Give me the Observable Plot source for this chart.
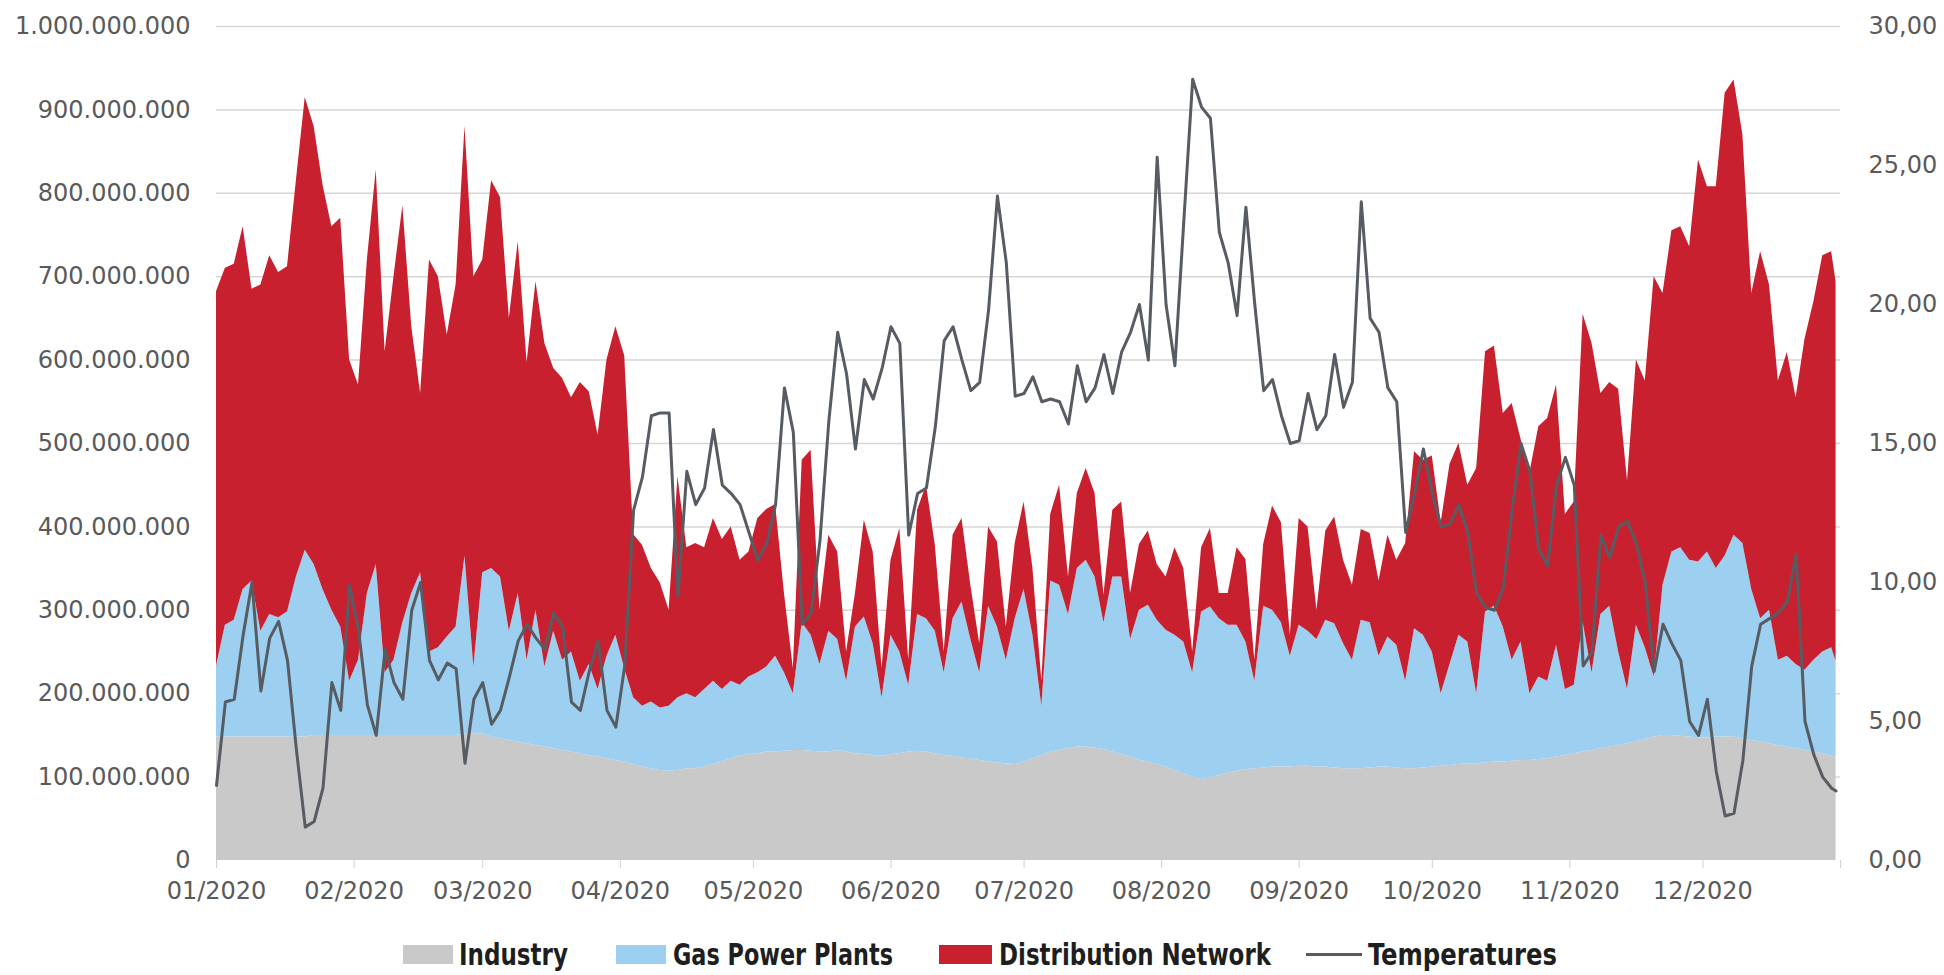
<!DOCTYPE html>
<html><head><meta charset="utf-8">
<script src="https://cdn.jsdelivr.net/npm/d3@7"></script>
<script src="https://cdn.jsdelivr.net/npm/@observablehq/plot@0.6"></script>
<style>
body{margin:0;background:#fff;width:1944px;height:975px;overflow:hidden;position:relative}
#legend{position:absolute;left:0;top:925px}
</style></head>
<body><div id="chart"></div><svg id="legend" width="1944" height="50"></svg>
<script>
// Series names and colours
const seriesNames = ["Industry", "Gas Power Plants", "Distribution Network"];
const seriesColors = ["#c9c9c9", "#9ccff0", "#c8202f"];
const tempName = "Temperatures";
const tempColor = "#575c63";

// Values read every 2 days from 01/01/2020 (last point 31/12/2020), in millions
const industry = [
148,148,148,148,148,148,148,148,148,148,
148,150,150,150,150,150,150,150,150,150,
150,150,150,150,150,150,150,150,152,152,
152,148,146,144,142,140,138,136,134,132,
130,128,126,124,122,120,118,115,112,110,
108,107,108,110,110,112,115,118,122,125,
127,128,130,130,131,132,132,131,130,130,
132,130,128,127,126,125,127,128,130,131,
130,128,126,125,123,122,120,118,117,116,
115,118,122,126,130,132,134,136,136,135,
133,130,127,124,120,118,115,112,108,104,
100,97,99,102,105,107,109,110,111,112,
112,112,113,113,112,112,111,110,110,110,
111,112,112,111,110,110,111,112,113,114,
115,116,116,117,118,118,119,120,120,121,
122,124,126,128,130,132,134,136,138,140,
142,145,148,150,150,149,148,147,147,148,
148,148,146,144,142,140,138,136,134,132,
130,128,125,124];

const gasPowerPlants = [
85,134,140,177,187,127,147,143,150,192,
224,205,175,150,130,65,90,170,205,75,
90,135,170,195,100,105,118,130,213,80,
193,202,194,131,178,100,162,96,141,108,
120,87,109,81,123,150,112,80,73,80,
75,78,87,90,85,93,100,87,93,85,
93,97,102,115,94,68,153,139,105,145,
133,85,152,165,134,70,143,122,80,164,
160,147,99,165,187,143,105,187,163,124,
175,207,148,59,205,198,161,214,224,205,
152,210,213,141,180,188,173,164,162,158,
125,201,205,188,177,175,153,105,194,188,
173,133,169,162,153,176,173,150,130,178,
174,133,156,147,105,168,159,138,87,121,
155,146,84,181,187,162,121,142,80,99,
93,134,79,82,155,93,161,169,112,65,
140,110,72,180,220,226,212,211,223,202,
217,242,234,181,148,160,102,109,101,96,
110,122,130,115];

const distributionNetwork = [
449,428,427,435,350,415,430,414,414,475,
543,525,485,460,490,385,330,400,473,385,
460,500,320,215,470,445,362,410,515,468,
375,465,455,375,422,357,394,388,315,338,
305,358,327,305,355,370,375,196,193,160,
150,115,265,175,185,170,195,180,185,150,
150,185,189,182,95,30,195,222,65,115,
105,35,40,116,110,35,90,148,30,125,
160,103,25,100,100,65,35,95,102,40,
90,105,80,30,80,120,45,90,110,100,
33,80,90,55,79,89,67,64,105,88,
25,77,94,30,38,93,99,25,74,125,
120,25,128,125,35,107,128,100,90,109,
107,90,122,102,165,212,210,235,205,240,
230,188,270,312,312,256,308,243,265,300,
315,312,210,220,370,395,265,268,315,250,
318,320,480,350,385,385,376,482,438,458,
555,546,490,355,440,390,335,364,320,397,
430,475,475,455];

// Temperatures (°C)
const temperatures = [
2.7,5.7,5.8,8.1,10.0,6.1,8.0,8.6,7.2,4.0,
1.2,1.4,2.6,6.4,5.4,9.9,8.3,5.6,4.5,7.6,
6.4,5.8,9.0,10.0,7.2,6.5,7.1,6.9,3.5,5.8,
6.4,4.9,5.4,6.6,7.9,8.5,8.0,7.6,8.9,8.4,
5.7,5.4,6.8,7.9,5.4,4.8,7.0,12.6,13.8,16.0,
16.1,16.1,9.5,14.0,12.8,13.4,15.5,13.5,13.2,12.8,
11.8,10.8,11.4,12.8,17.0,15.4,8.5,8.9,11.5,15.8,
19.0,17.5,14.8,17.3,16.6,17.7,19.2,18.6,11.7,13.2,
13.4,15.6,18.7,19.2,18.0,16.9,17.2,19.8,23.9,21.5,
16.7,16.8,17.4,16.5,16.6,16.5,15.7,17.8,16.5,17.0,
18.2,16.8,18.3,19.0,20.0,18.0,25.3,20.0,17.8,23.0,
28.1,27.1,26.7,22.6,21.5,19.6,23.5,20.0,16.9,17.3,
16.0,15.0,15.1,16.8,15.5,16.0,18.2,16.3,17.2,23.7,
19.5,19.0,17.0,16.5,11.8,13.2,14.8,13.2,12.0,12.1,
12.8,11.8,9.6,9.1,9.0,9.8,12.6,15.0,14.0,11.2,
10.6,13.5,14.5,13.5,7.0,7.5,11.7,10.9,12.0,12.2,
11.4,10.0,6.8,8.5,7.8,7.2,5.0,4.5,5.8,3.2,
1.6,1.7,3.6,7.0,8.5,8.7,8.9,9.3,11.0,5.0,
3.8,3.0,2.6,2.5];

// Axis ticks
const leftTicks = [0,100,200,300,400,500,600,700,800,900,1000]; // millions
const rightTicks = [0,5,10,15,20,25,30]; // °C
const yMax = 1000, tMax = 30;

const start = new Date(Date.UTC(2020,0,1));
const end = new Date(Date.UTC(2021,0,1));
const dates = industry.map((_, i) => new Date(Date.UTC(2020,0,1 + Math.min(2*i, 365))));

const rows = [];
[industry, gasPowerPlants, distributionNetwork].forEach((arr, k) =>
  arr.forEach((v, i) => rows.push({date: dates[i], series: seriesNames[k], value: v})));
const tempRows = temperatures.map((t, i) => ({date: dates[i], temp: t}));

const fmtM = d3.formatLocale({decimal:",", thousands:".", grouping:[3], currency:["",""]}).format(",.0f");
const monthTicks = d3.utcMonth.range(start, new Date(Date.UTC(2021,0,2)));

const chart = Plot.plot({
  width: 1944, height: 915,
  marginTop: 26, marginBottom: 55, marginLeft: 216, marginRight: 104,
  style: {fontFamily: "DejaVu Sans", fontSize: "24px", color: "#5a5a5a", background: "#fff"},
  x: {type: "utc", domain: [start, end]},
  y: {domain: [0, yMax]},
  color: {domain: seriesNames, range: seriesColors},
  marks: [
    Plot.gridY(leftTicks.slice(1), {stroke: "#d6d6d6", strokeOpacity: 1, strokeWidth: 1.5}),
    Plot.areaY(rows, {x: "date", y: "value", fill: "series", curve: "linear"}),
    Plot.lineY(tempRows, {x: "date", y: d => d.temp * yMax / tMax, stroke: tempColor, strokeWidth: 3, curve: "linear", strokeLinejoin: "round"}),
    Plot.axisY(leftTicks, {anchor: "left", tickSize: 0, tickPadding: 26, tickFormat: d => fmtM(d * 1e6), label: null, fontSize: 24, fontFamily: "DejaVu Sans"}),
    Plot.axisY(rightTicks.map(t => t * yMax / tMax), {anchor: "right", tickSize: 0, tickPadding: 28, tickFormat: d => (d * tMax / yMax).toFixed(2).replace(".", ","), label: null, fontSize: 24, fontFamily: "DejaVu Sans"}),
    Plot.axisX(monthTicks, {tickSize: 8, tickPadding: 13, stroke: "#cfcfcf", tickFormat: d => d.getUTCFullYear() === 2020 ? d3.utcFormat("%m/%Y")(d) : "", label: null, fontSize: 24, fontFamily: "DejaVu Sans"})
  ]
});
document.getElementById("chart").appendChild(chart);

// Legend (layout: swatch x, swatch width, text x, text width)
const legendItems = [
  {name: seriesNames[0], color: seriesColors[0], kind: "box",  sx: 403,  sw: 50, tx: 459,  tw: 109},
  {name: seriesNames[1], color: seriesColors[1], kind: "box",  sx: 616,  sw: 50, tx: 673,  tw: 220},
  {name: seriesNames[2], color: seriesColors[2], kind: "box",  sx: 939,  sw: 53, tx: 999,  tw: 272},
  {name: tempName,       color: tempColor,       kind: "line", sx: 1306, sw: 56, tx: 1368, tw: 189}
];
const lg = d3.select("#legend");
legendItems.forEach(it => {
  if (it.kind === "box") {
    lg.append("rect").attr("x", it.sx).attr("y", 20).attr("width", it.sw).attr("height", 19).attr("fill", it.color);
  } else {
    lg.append("line").attr("x1", it.sx).attr("x2", it.sx + it.sw).attr("y1", 29.5).attr("y2", 29.5)
      .attr("stroke", it.color).attr("stroke-width", 3);
  }
  lg.append("text").attr("x", it.tx).attr("y", 40)
    .attr("textLength", it.tw).attr("lengthAdjust", "spacingAndGlyphs")
    .attr("font-family", "'DejaVu Sans Condensed', 'DejaVu Sans', sans-serif")
    .attr("font-weight", "bold").attr("font-size", 31).attr("fill", "#1e1e1e")
    .text(it.name);
});
</script></body></html>
